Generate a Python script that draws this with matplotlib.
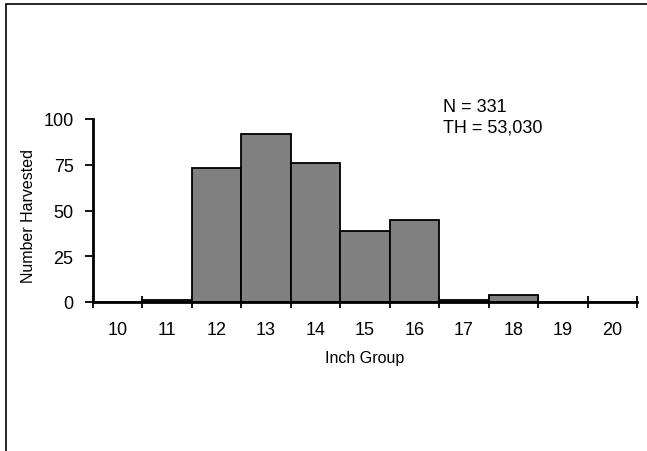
import matplotlib
matplotlib.use("Agg")
import matplotlib.pyplot as plt
from matplotlib.patches import Rectangle

plt.rcParams['font.family'] = ['Liberation Sans', 'DejaVu Sans']

inch_groups = [10, 11, 12, 13, 14, 15, 16, 17, 18, 19, 20]
harvested = [0, 1, 73, 92, 76, 39, 45, 1, 4, 0, 0]
y_ticks = [0, 25, 50, 75, 100]
n_text = "N = 331"
th_text = "TH = 53,030"

W, H = 647, 452
fig = plt.figure(figsize=(W / 100, H / 100), dpi=100)

# outer chart frame (runs off the right and bottom edges)
fig.patches.append(Rectangle((6 / W, -0.1), 1.2, (H - 5) / H + 0.1,
                             transform=fig.transFigure, fill=False,
                             edgecolor='black', linewidth=1.2))

ax = fig.add_axes([93 / W, (H - 303) / H, 544 / W, 183 / H])
pos = list(range(len(inch_groups)))
ax.bar(pos, harvested, width=1.0, color='#808080', edgecolor='black',
       linewidth=1.3, zorder=2)

ax.set_xlim(-0.5, len(inch_groups) - 0.5)
ax.set_ylim(0, 100)

for s in ['top', 'right']:
    ax.spines[s].set_visible(False)
ax.spines['left'].set_linewidth(2)
ax.spines['bottom'].set_linewidth(2)
ax.spines['bottom'].set_zorder(3)

# tick marks on bin edges, labels on bin centres
ax.set_xticks([p - 0.5 for p in pos] + [pos[-1] + 0.5])
ax.set_xticklabels([])
ax.tick_params(axis='x', which='major', direction='inout', length=9, width=1.3)
ax.set_xticks(pos, minor=True)
ax.set_xticklabels([str(g) for g in inch_groups], minor=True, fontsize=13)
ax.tick_params(axis='x', which='minor', length=0, pad=14)

ax.set_yticks(y_ticks)
ax.set_yticklabels([str(v) for v in y_ticks], fontsize=13)
ax.tick_params(axis='y', direction='out', length=6, width=1.3, pad=8)

ax.set_xlabel("Inch Group", fontsize=11.5, labelpad=8)
ax.set_ylabel("Number Harvested", fontsize=11.5)
ax.yaxis.set_label_coords(-0.105, 0.475)

fig.text(443 / W, 1 - 112.5 / H, n_text, fontsize=13, va='baseline', ha='left')
fig.text(443 / W, 1 - 132.5 / H, th_text, fontsize=13, va='baseline', ha='left')

fig.savefig("out.png", dpi=100)
